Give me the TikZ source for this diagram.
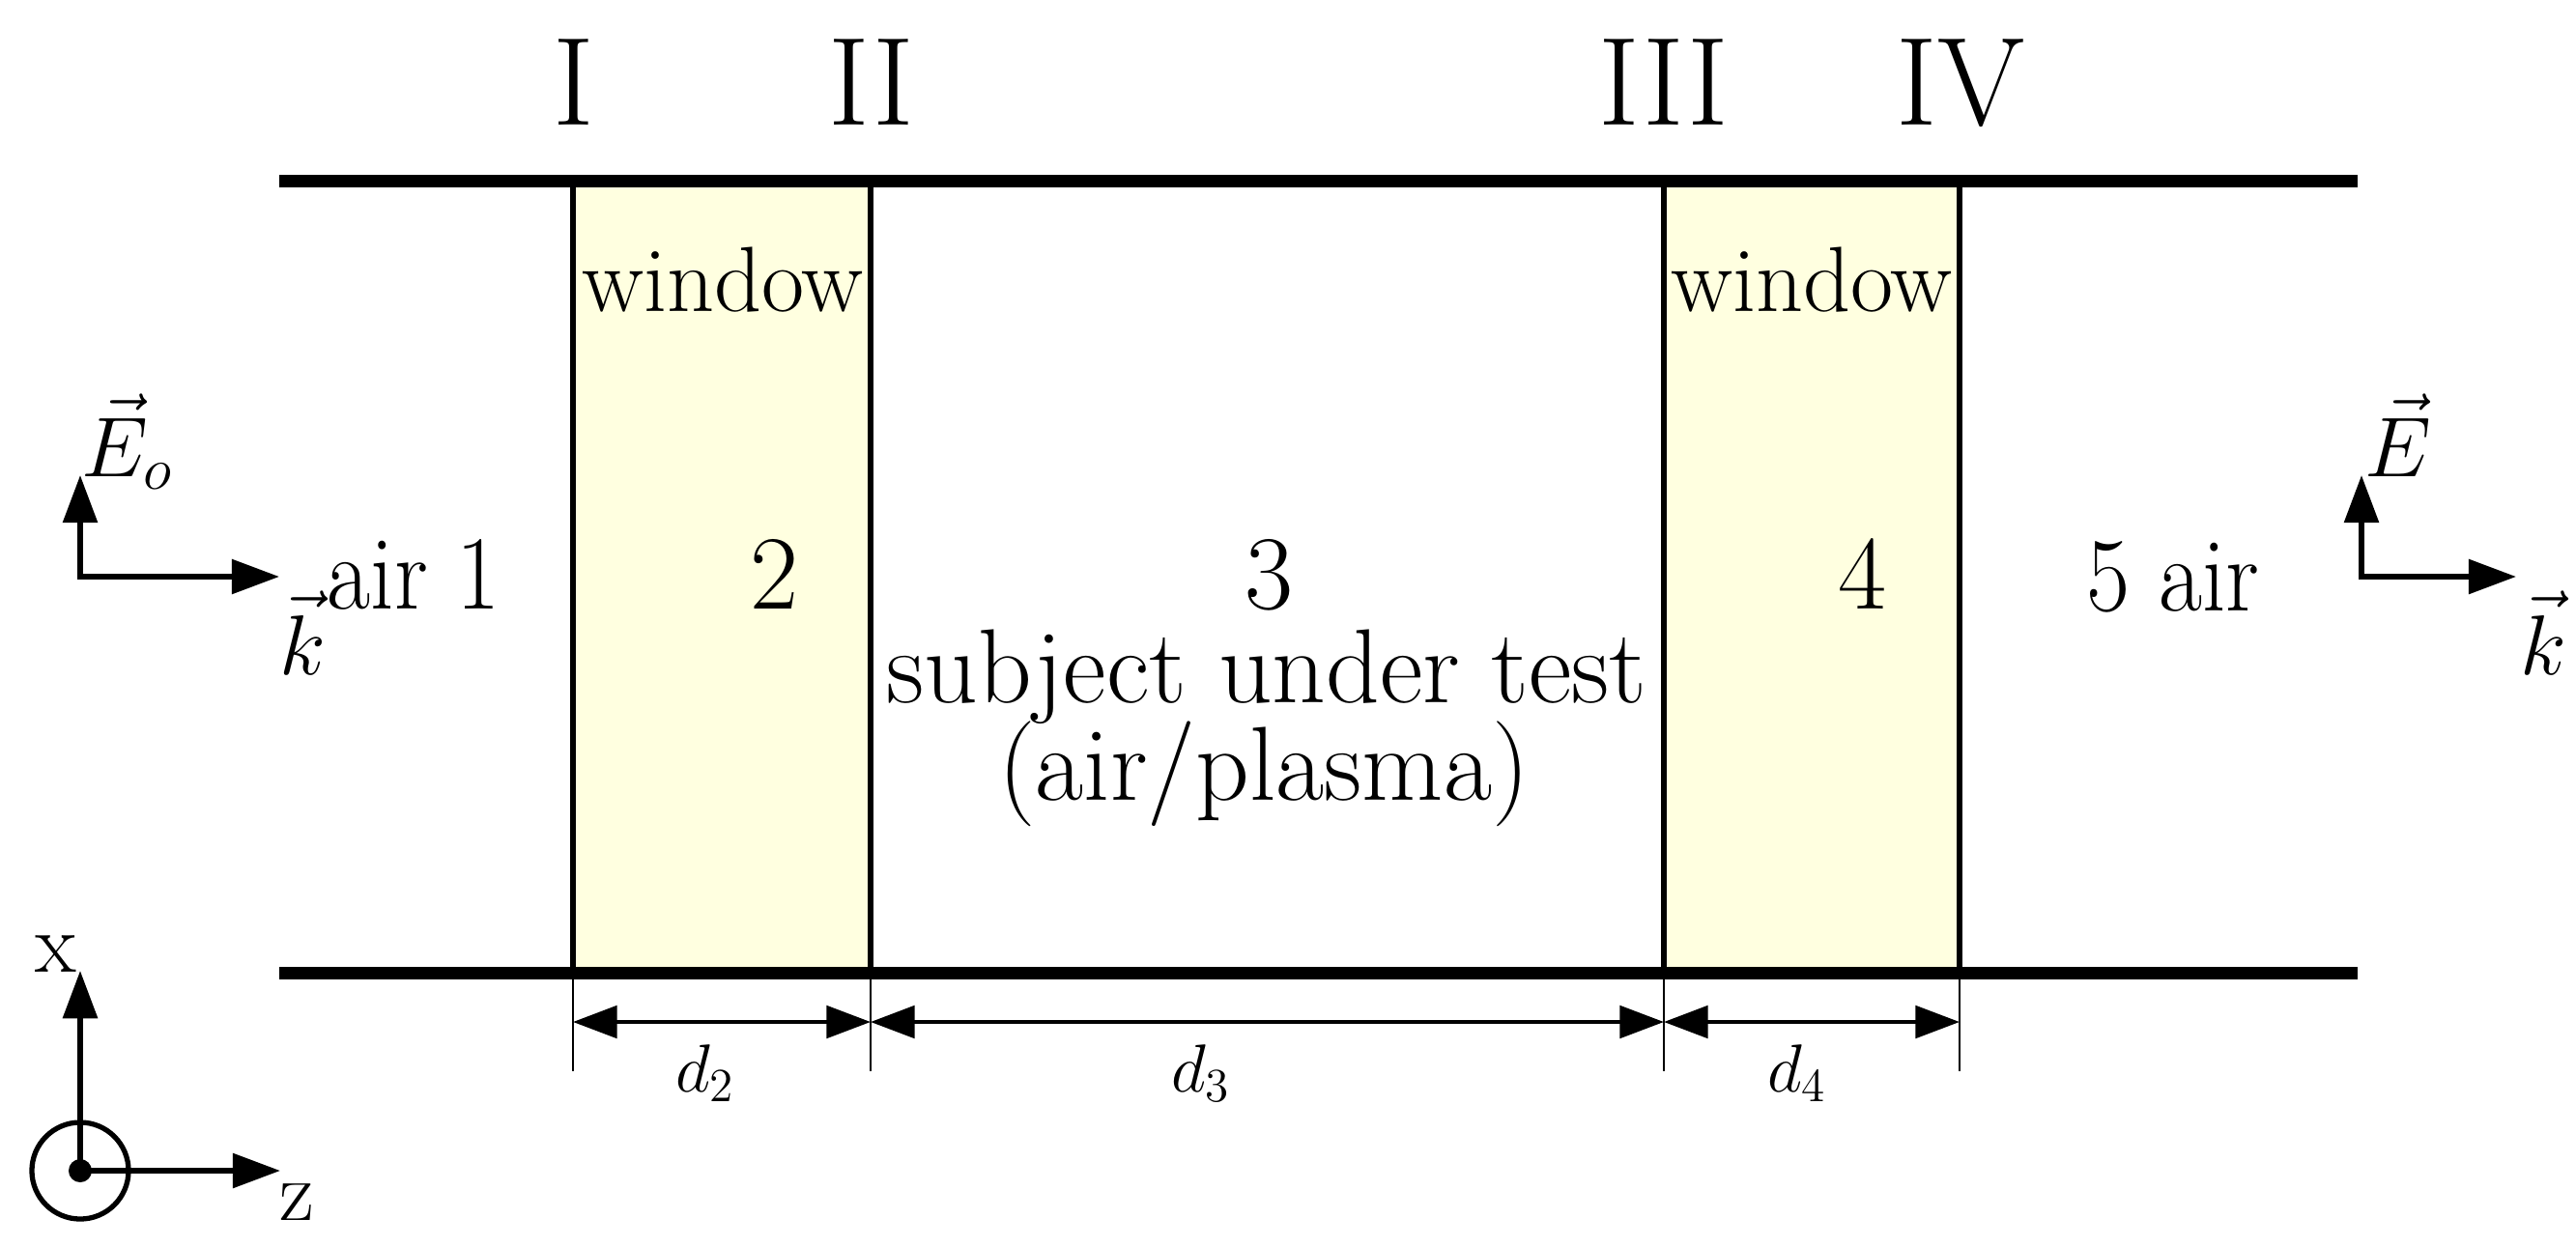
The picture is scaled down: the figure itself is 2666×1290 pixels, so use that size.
\RequirePackage{fix-cm}
\documentclass[tikz,border=0pt]{standalone}
\usetikzlibrary{arrows.meta}
\definecolor{winfill}{RGB}{255,255,224}
\newcommand\fs[1]{\fontsize{#1}{#1}\selectfont}
\newcommand\hsc[2]{\scalebox{#1}[1]{#2}}
\begin{document}
\begin{tikzpicture}[x=0.01cm,y=-0.01cm,
  lbl/.style={inner sep=0pt, anchor=base},
  lblw/.style={inner sep=0pt, anchor=base west},
  rail/.style={line width=3.7pt},
  win/.style={fill=winfill, draw=black, line width=1.7pt},
  ext/.style={line width=0.6pt},
  dimarr/.style={line width=1.2pt, {Triangle[length=13pt,width=9.5pt]}-{Triangle[length=13pt,width=9.5pt]}},
  vecarr/.style={line width=1.6pt, {Triangle[length=14pt,width=10pt]}-{Triangle[length=14pt,width=10pt]}},
]
\useasboundingbox (0,0) rectangle (2666,1290);
% interface coordinates
\coordinate (aT) at (593,187);  \coordinate (aB) at (593,1007);
\coordinate (bT) at (901,187);  \coordinate (bB) at (901,1007);
\coordinate (cT) at (1722,187); \coordinate (cB) at (1722,1007);
\coordinate (dT) at (2028,187); \coordinate (dB) at (2028,1007);
% windows
\draw[win] (aT) rectangle (bB);
\draw[win] (cT) rectangle (dB);
% rails
\coordinate (rTL) at (289,187); \coordinate (rTR) at (2440,187);
\coordinate (rBL) at (289,1007); \coordinate (rBR) at (2440,1007);
\draw[rail] (rTL) -- (rTR);
\draw[rail] (rBL) -- (rBR);
% extension lines
\coordinate (ae) at (593,1109); \coordinate (be) at (901,1109);
\coordinate (ce) at (1722,1109); \coordinate (de) at (2028,1109);
\draw[ext] (aB) -- (ae);
\draw[ext] (bB) -- (be);
\draw[ext] (cB) -- (ce);
\draw[ext] (dB) -- (de);
% dimension arrows
\coordinate (ad) at (593,1058); \coordinate (bd) at (901,1058);
\coordinate (cd) at (1722,1058); \coordinate (dd) at (2028,1058);
\draw[dimarr] (ad) -- (bd);
\draw[dimarr] (bd) -- (cd);
\draw[dimarr] (cd) -- (dd);
\node[lbl, font=\fs{20}] (d2) at (730,1130) {$d_2$};
\node[lbl, font=\fs{20}] (d3) at (1243,1130) {$d_3$};
\node[lbl, font=\fs{20}] (d4) at (1860,1130) {$d_4$};
% interface labels
\node[lbl, font=\fs{37}] (I) at (594,129) {I};
\node[lbl, font=\fs{37}] (II) at (902,129) {II};
\node[lbl, font=\fs{37}] (III) at (1722,129) {III};
\node[lbl, font=\fs{37}] (IV) at (2029,129) {IV};
% region labels
\node[lbl, font=\fs{27.3}] (w1) at (748,322) {window};
\node[lbl, font=\fs{27.3}] (w2) at (1875,322) {window};
\node[lbl, font=\fs{31}] (r1) at (428,630) {\hsc{0.9}{air 1}};
\node[lbl, font=\fs{31}] (r2) at (802,630) {2};
\node[lbl, font=\fs{31}] (r3) at (1314,630) {3};
\node[lbl, font=\fs{31}] (sut) at (1311,727) {subject under test};
\node[lbl, font=\fs{31}] (ap) at (1308,828) {(air/plasma)};
\node[lbl, font=\fs{31}] (r4) at (1927,630) {4};
\node[lbl, font=\fs{31}] (r5) at (2249,632) {\hsc{0.9}{5 air}};
% incident field
\coordinate (o1) at (83,597); \coordinate (e1) at (83,492); \coordinate (k1) at (289,597);
\draw[vecarr] (e1) -- (o1) -- (k1);
\node[lblw, font=\fs{25}] (E1) at (84,493) {$\vec{E}_o$};
\node[lblw, font=\fs{25}] (K1) at (289,698) {$\vec{k}$};
% transmitted field
\coordinate (o2) at (2444,597); \coordinate (e2) at (2444,492); \coordinate (k2) at (2604,597);
\draw[vecarr] (e2) -- (o2) -- (k2);
\node[lblw, font=\fs{25}] (E2) at (2447,493) {$\vec{E}$};
\node[lblw, font=\fs{25}] (K2) at (2608,698) {$\vec{k}$};
% axes
\coordinate (ax0) at (83,1212); \coordinate (axx) at (83,1005); \coordinate (axz) at (290,1212);
\draw[vecarr] (axx) -- (ax0) -- (axz);
\draw[line width=1.5pt] (ax0) circle[radius=0.5cm];
\fill (ax0) circle[radius=0.12cm];
\node[lbl, font=\fs{25}] (xl) at (58,1006) {x};
\node[lbl, font=\fs{25}] (zl) at (307,1263) {z};
\end{tikzpicture}
\end{document}
